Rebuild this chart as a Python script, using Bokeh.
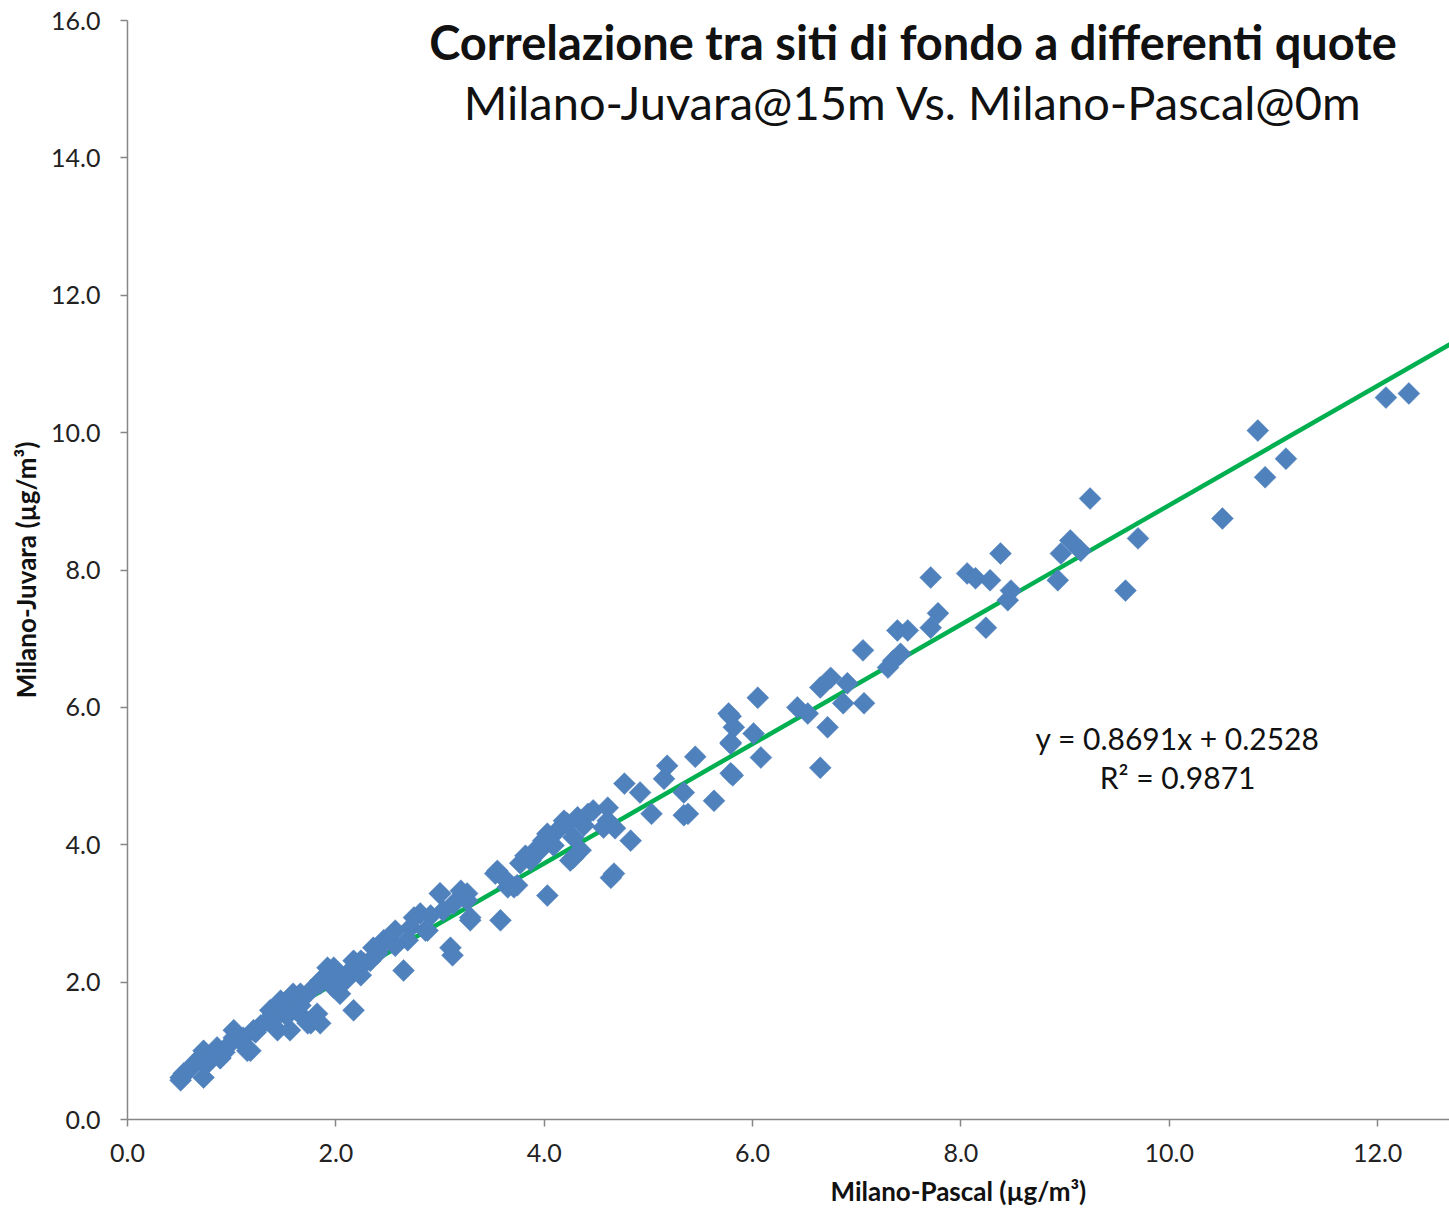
import math
from bokeh.plotting import figure
from bokeh.models import Range1d, FixedTicker, NumeralTickFormatter, Label, Title
from bokeh.embed import file_html
from bokeh.resources import INLINE

# Milano-Pascal (x) vs Milano-Juvara (y), µg/m³
pascal = [0.54, 0.51, 0.60, 0.70, 0.75, 0.86, 0.89, 1.02, 1.11, 1.18, 0.97, 1.34, 1.44, 1.56, 1.59,
          1.69, 1.76, 1.82, 1.76, 1.92, 1.98, 2.04, 2.14, 2.27, 2.40, 2.46, 2.17, 1.28, 1.37, 1.47,
          1.66, 1.85, 1.08, 0.80, 0.65, 1.66, 1.53, 2.09, 2.24, 2.33, 2.52, 2.40, 2.65, 2.72, 2.81,
          3.00, 3.03, 3.20, 3.26, 3.29, 3.12, 3.53, 3.58, 3.65, 3.74, 3.87, 3.99, 4.13, 4.03, 4.25,
          4.35, 4.22, 4.57, 4.64, 3.77, 3.61, 3.71, 3.94, 4.03, 4.28, 4.19, 4.32, 4.47, 4.61, 4.68,
          4.83, 4.67, 4.77, 4.92, 5.03, 5.15, 5.18, 5.34, 5.38, 5.45, 5.63, 5.79, 5.79, 5.82, 5.79,
          6.01, 6.05, 6.08, 6.43, 6.53, 6.65, 6.75, 6.91, 6.87, 7.07, 6.72, 6.65, 7.06, 7.30, 7.35,
          7.39, 7.49, 7.71, 7.78, 7.71, 8.06, 8.14, 8.28, 8.38, 8.24, 8.48, 8.45, 8.93, 8.96, 9.05,
          9.15, 9.24, 9.70, 9.58, 10.51, 10.85, 10.92, 11.12, 12.08, 12.30, 5.77, 5.79, 5.81, 5.34,
          4.61, 4.42, 4.28, 4.03, 3.96, 3.55, 3.13, 2.75, 2.69, 3.10, 2.91, 2.86, 2.57, 2.24, 2.04,
          2.57, 7.42, 0.93, 1.23, 1.40, 1.95,
          3.00, 3.26, 3.29, 2.88, 2.36, 2.17, 1.98, 1.85, 1.66, 1.59, 1.73, 1.85, 1.40, 1.21, 1.15,
          1.02, 0.73, 0.89, 0.73, 0.51, 4.38, 4.09, 3.82]
juvara = [0.67, 0.57, 0.74, 0.90, 0.79, 1.05, 0.89, 1.30, 1.19, 1.00, 1.08, 1.44, 1.30, 1.30, 1.83,
          1.48, 1.40, 1.54, 1.88, 2.21, 1.92, 1.83, 2.17, 2.27, 2.46, 2.61, 1.59, 1.37, 1.59, 1.73,
          1.73, 2.02, 1.15, 0.93, 0.83, 1.66, 1.51, 2.02, 2.10, 2.31, 2.61, 2.42, 2.17, 2.80, 3.00,
          3.29, 3.04, 3.33, 3.19, 2.90, 2.39, 3.58, 2.90, 3.38, 3.41, 3.77, 4.06, 4.21, 3.26, 3.77,
          3.92, 4.31, 4.25, 3.52, 3.73, 3.52, 3.38, 3.96, 4.16, 3.81, 4.35, 4.40, 4.50, 4.54, 4.24,
          4.06, 3.58, 4.89, 4.76, 4.45, 4.96, 5.15, 4.76, 4.45, 5.28, 4.64, 5.04, 5.47, 5.71, 5.87,
          5.62, 6.14, 5.27, 6.00, 5.91, 6.29, 6.43, 6.35, 6.06, 6.06, 5.71, 5.12, 6.83, 6.58, 6.68,
          7.12, 7.12, 7.16, 7.37, 7.89, 7.95, 7.88, 7.85, 8.24, 7.16, 7.70, 7.56, 7.85, 8.24, 8.43,
          8.28, 9.04, 8.46, 7.70, 8.75, 10.03, 9.35, 9.62, 10.51, 10.57, 5.91, 5.49, 5.01, 4.43,
          4.35, 4.45, 4.11, 4.11, 3.92, 3.62, 3.14, 2.94, 2.61, 2.50, 2.97, 2.75, 2.53, 2.31, 2.10,
          2.75, 6.78, 0.98, 1.27, 1.45, 1.97,
          3.29, 3.29, 2.94, 2.75, 2.50, 2.31, 2.21, 1.98, 1.83, 1.63, 1.40, 1.40, 1.54, 1.30, 1.00,
          1.19, 1.00, 0.90, 0.61, 0.61, 4.28, 3.99, 3.84]

x_ticks = [0, 2, 4, 6, 8, 10, 12]
y_ticks = [0, 2, 4, 6, 8, 10, 12, 14, 16]
slope, intercept, r2 = 0.8691, 0.2528, 0.9871
title_text = "Correlazione tra siti di fondo a differenti quote"
subtitle_text = "Milano-Juvara@15m Vs. Milano-Pascal@0m"
x_title = "Milano-Pascal (µg/m³)"
y_title = "Milano-Juvara (µg/m³)"

FONT = "Lato"
AX = "#868686"

p = figure(width=1449, height=1215, output_backend="svg", toolbar_location=None,
           x_range=Range1d(0, 12.69), y_range=Range1d(0, 16),
           min_border_left=127, min_border_right=0, min_border_top=20, min_border_bottom=96)
p.outline_line_color = None
p.xgrid.grid_line_color = None
p.ygrid.grid_line_color = None
p.background_fill_color = "white"
p.border_fill_color = "white"

for ax, ticks in ((p.xaxis[0], x_ticks), (p.yaxis[0], y_ticks)):
    ax.ticker = FixedTicker(ticks=ticks)
    ax.formatter = NumeralTickFormatter(format="0.0")
    ax.axis_line_color = AX
    ax.axis_line_width = 1.5
    ax.major_tick_line_color = AX
    ax.major_tick_line_width = 1.5
    ax.major_tick_out = 7
    ax.major_tick_in = 0
    ax.minor_tick_line_color = None
    ax.major_label_text_font = FONT
    ax.major_label_text_font_size = "25px"
    ax.major_label_text_color = "#222222"

p.xaxis[0].major_label_standoff = 17
p.yaxis[0].major_label_standoff = 20
p.yaxis[0].axis_label = y_title
p.yaxis[0].axis_label_text_font = FONT
p.yaxis[0].axis_label_text_font_style = "bold"
p.yaxis[0].axis_label_text_font_size = "26px"
p.yaxis[0].axis_label_text_color = "#111111"
p.yaxis[0].axis_label_standoff = 6

# trendline from the displayed equation
x0, x1 = min(pascal), 12.9
p.line([x0, x1], [slope * x0 + intercept, slope * x1 + intercept], line_color="#00B050", line_width=4.5)

p.scatter(pascal, juvara, marker="square", size=15.5, angle=math.pi / 4,
          fill_color="#4F81BD", line_color="#4F81BD", line_width=0.5)

p.add_layout(Label(x=7.54, y=15.69, text=title_text, text_align="center", text_baseline="middle",
                   text_font=FONT, text_font_style="bold", text_font_size="47px", text_color="#111111"))
p.add_layout(Label(x=7.54, y=14.82, text=subtitle_text, text_align="center", text_baseline="middle",
                   text_font=FONT, text_font_size="47px", text_color="#111111"))
p.add_layout(Label(x=10.08, y=5.56, text=f"y = {slope}x + {intercept}", text_align="center",
                   text_baseline="middle", text_font=FONT, text_font_size="30px", text_color="#111111"))
p.add_layout(Label(x=10.08, y=4.98, text=f"R² = {r2}", text_align="center",
                   text_baseline="middle", text_font=FONT, text_font_size="30px", text_color="#111111"))
p.add_layout(Title(text=x_title, align="left", offset=703, standoff=17,
                   text_font=FONT, text_font_style="bold", text_font_size="26px", text_color="#111111"),
             "below")

open("out.html", "w").write(file_html(p, INLINE))
